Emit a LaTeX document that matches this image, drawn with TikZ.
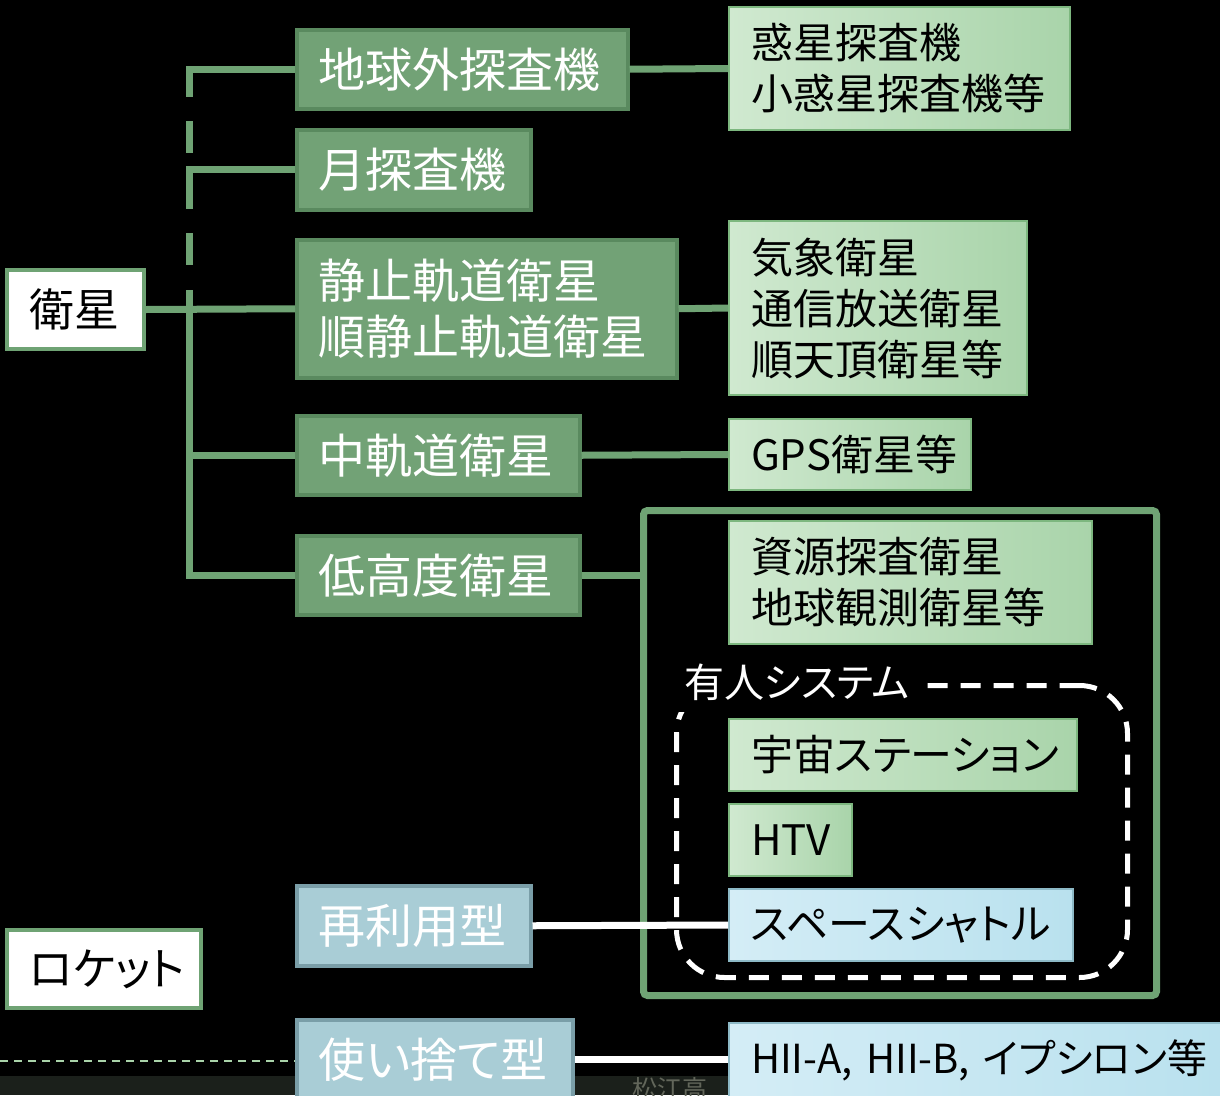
\documentclass[tikz,border=0pt]{standalone}
\usepackage{fontspec}
\setmainfont[RawFeature={+palt}]{Noto Sans CJK JP}
\definecolor{cg}{HTML}{6FA374}
\definecolor{mg}{HTML}{72A276}
\definecolor{mgb}{HTML}{5A8A5F}
\definecolor{lga}{HTML}{D0E9D0}
\definecolor{lgc}{HTML}{A9D4AA}
\definecolor{lgb}{HTML}{7DB77F}
\definecolor{bga}{HTML}{A9CDD6}
\definecolor{bgb}{HTML}{7A9EA8}
\definecolor{lba}{HTML}{D4EDF6}
\definecolor{lbc}{HTML}{B9E1EE}
\definecolor{lbb}{HTML}{8DB9C6}
\definecolor{paleg}{HTML}{A9D3A9}
\definecolor{footbg}{HTML}{1B201B}
\definecolor{foottx}{HTML}{62665A}
\begin{document}
\begin{tikzpicture}[x=1pt,y=-1pt,
  base/.style={anchor=north west, inner xsep=22pt, inner ysep=0pt, align=left},
  whitebox/.style={base, fill=white, draw=cg, line width=4pt, text=black, font=\fontsize{45}{54}\selectfont},
  midbox/.style={base, fill=mg, draw=mgb, line width=3.5pt, text=white, font=\fontsize{47}{56}\selectfont},
  lightbox/.style={base, left color=lga, right color=lgc, draw=lgb, line width=2pt, text=black, font=\fontsize{42}{51}\selectfont},
  bluegray/.style={base, fill=bga, draw=bgb, line width=3.5pt, text=white, font=\fontsize{47}{56}\selectfont},
  lightblue/.style={base, left color=lba, right color=lbc, draw=lbb, line width=2pt, text=black, font=\fontsize{42}{51}\selectfont},
  conn/.style={draw=cg, line width=7pt},
  wconn/.style={draw=white, line width=7pt},
]
\useasboundingbox (0,0) rectangle (1220,1095);
\clip (0,0) rectangle (1220,1095);
\fill[black] (0,0) rectangle (1220,1095);

% footer band
\fill[footbg] (0,1076) rectangle (1220,1095);
\begin{scope}
\clip (0,1076) rectangle (1220,1095);
\node[anchor=north west, inner sep=0pt, text=foottx, font=\fontsize{25}{30}\selectfont] (footer) at (632,1077) {松江高};
\end{scope}

% big frame and manned-system group
\node[anchor=north west, draw=cg, line width=7pt, rounded corners=4pt, minimum width=513pt, minimum height=485pt, inner sep=0pt] (frame) at (640,507) {};
\node[anchor=north west, draw=white, line width=5pt, rounded corners=48pt, dash pattern=on 20pt off 13pt, minimum width=451pt, minimum height=292pt, inner sep=0pt] (yujin) at (674,683) {};
\node[anchor=west, fill=black, text=white, inner xsep=12pt, inner ysep=0pt, minimum height=60pt, font=\fontsize{40}{48}\selectfont] (yujinlbl) at (672,682) {有人システム};

% satellite side boxes
\node[whitebox, text width=93pt, minimum height=79pt] (eisei) at (5,268) {衛星};
\node[midbox, text width=287pt, minimum height=79pt] (gaibu) at (295,28) {地球外探査機};
\node[midbox, text width=190pt, minimum height=80pt] (tsuki) at (295,128) {月探査機};
\node[midbox, text width=336pt, minimum height=138pt] (seishi) at (295,238) {静止軌道衛星\\順静止軌道衛星};
\node[midbox, text width=239pt, minimum height=79pt] (chuki) at (295,414) {中軌道衛星};
\node[midbox, text width=239pt, minimum height=79pt] (teiko) at (295,534) {低高度衛星};

\node[lightbox, text width=297pt, minimum height=123pt] (wakusei) at (728,6) {惑星探査機\\小惑星探査機等};
\node[lightbox, text width=254pt, minimum height=174pt] (kisho) at (728,220) {気象衛星\\通信放送衛星\\順天頂衛星等};
\node[lightbox, text width=198pt, minimum height=71pt] (gps) at (728,418) {GPS衛星等};
\node[lightbox, text width=319pt, minimum height=123pt] (shigen) at (728,520) {資源探査衛星\\地球観測衛星等};
\node[lightbox, text width=304pt, minimum height=72pt] (uchu) at (728,718) {宇宙ステーション};
\node[lightbox, text width=79pt, minimum height=72pt] (htv) at (728,803) {HTV};

% rocket side boxes
\node[whitebox, text width=150pt, minimum height=78pt] (roketto) at (5,928) {ロケット};
\node[bluegray, text width=190pt, minimum height=80pt] (saiyo) at (295,884) {再利用型};
\node[bluegray, text width=232pt, minimum height=80pt] (tsukai) at (295,1018) {使い捨て型};
\node[lightblue, text width=300pt, minimum height=72pt] (shuttle) at (728,888) {スペースシャトル};
\node[lightblue, text width=456pt, minimum height=74pt, font=\fontsize{40}{48}\selectfont] (hii) at (728,1022) {\mbox{HII-A, HII-B, イプシロン等}};

% trunk of the satellite tree
\coordinate (tr) at (189,0);
\coordinate (d1) at (189,97);
\coordinate (d2a) at (189,121);
\coordinate (d2b) at (189,153);
\coordinate (d3) at (189,209);
\coordinate (d4a) at (189,233);
\coordinate (d4b) at (189,265);
\coordinate (d5) at (189,290);
\draw[conn] (gaibu.west) -| (d1);
\draw[conn] (d2a) -- (d2b);
\draw[conn] (tsuki.west) -| (d3);
\draw[conn] (d4a) -- (d4b);
\draw[conn] (teiko.west) -| (d5);
\draw[conn] (eisei.east) -- (seishi.west);
\draw[conn] (chuki.west) -- (chuki.west -| tr);

% right connectors
\draw[conn] (gaibu.east) -- (wakusei.west);
\draw[conn] (seishi.east) -- (kisho.west);
\draw[conn] (chuki.east) -- (gps.west);
\draw[conn] (teiko.east) -- (teiko.east -| frame.west);

% rocket connectors
\draw[wconn] (saiyo.east) -- (shuttle.west);
\draw[wconn] (tsukai.east) -- (tsukai.east -| hii.west);
\coordinate (dl) at (0,1061);
\draw[draw=paleg, line width=2pt, dash pattern=on 8pt off 6pt] (dl) -- (dl -| tsukai.west);
\end{tikzpicture}
\end{document}
